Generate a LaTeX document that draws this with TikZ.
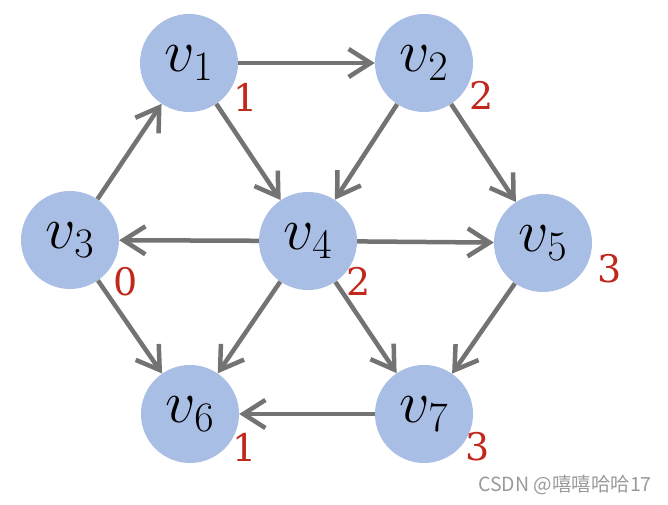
\documentclass[tikz,border=0pt]{standalone}
\usepackage{fix-cm}
\usepackage{fontspec}
\usetikzlibrary{arrows.meta}
\newfontfamily\cjkfont{Noto Sans CJK SC}
\newfontfamily\numfont{DejaVu Serif}
\definecolor{nodeblue}{HTML}{A9BEE5}
\definecolor{edgegray}{HTML}{737373}
\definecolor{numred}{HTML}{C0281C}
\definecolor{wmgray}{HTML}{9A9A9A}
\tikzset{
  vert/.style={circle, fill=nodeblue, draw=none, minimum size=98pt, inner sep=0pt,
    font=\fontsize{60}{66}\selectfont},
  edge/.style={draw=edgegray, line width=4.5pt,
    -{Straight Barb[length=22pt,width=28pt,line width=4.5pt]}},
  num/.style={text=numred, font=\numfont\fontsize{38}{42}\selectfont, inner sep=0pt},
  wm/.style={text=wmgray, font=\cjkfont\fontsize{19.5}{22}\selectfont, inner sep=0pt}
}
\begin{document}
\begin{tikzpicture}[x=1pt,y=1pt]
\useasboundingbox (0,0) rectangle (668,505);
\node[vert] (v1) at (189,442) {$v_1$};
\node[vert] (v2) at (424,442) {$v_2$};
\node[vert] (v3) at (70,265) {$v_3$};
\node[vert] (v4) at (308,264) {$v_4$};
\node[vert] (v5) at (543,262) {$v_5$};
\node[vert] (v6) at (190,91) {$v_6$};
\node[vert] (v7) at (424,91) {$v_7$};
\node[num] (n1) at (246,408) {1};
\node[num] (n2) at (482,410) {2};
\node[num] (n3) at (126,223) {0};
\node[num] (n4) at (359,224) {2};
\node[num] (n5) at (610,236) {3};
\node[num] (n6) at (245,58) {1};
\node[num] (n7) at (478,58) {3};
\path[edge] (v1) -- (v2);
\path[edge] (v1) -- (v4);
\path[edge] (v3) -- (v1);
\path[edge] (v2) -- (v4);
\path[edge] (v2) -- (v5);
\path[edge] (v4) -- (v3);
\path[edge] (v4) -- (v5);
\path[edge] (v4) -- (v6);
\path[edge] (v4) -- (v7);
\path[edge] (v3) -- (v6);
\path[edge] (v5) -- (v7);
\path[edge] (v7) -- (v6);
\node[wm, anchor=west] (wm) at (478,20) {CSDN @嘻嘻哈哈17};
\end{tikzpicture}
\end{document}
